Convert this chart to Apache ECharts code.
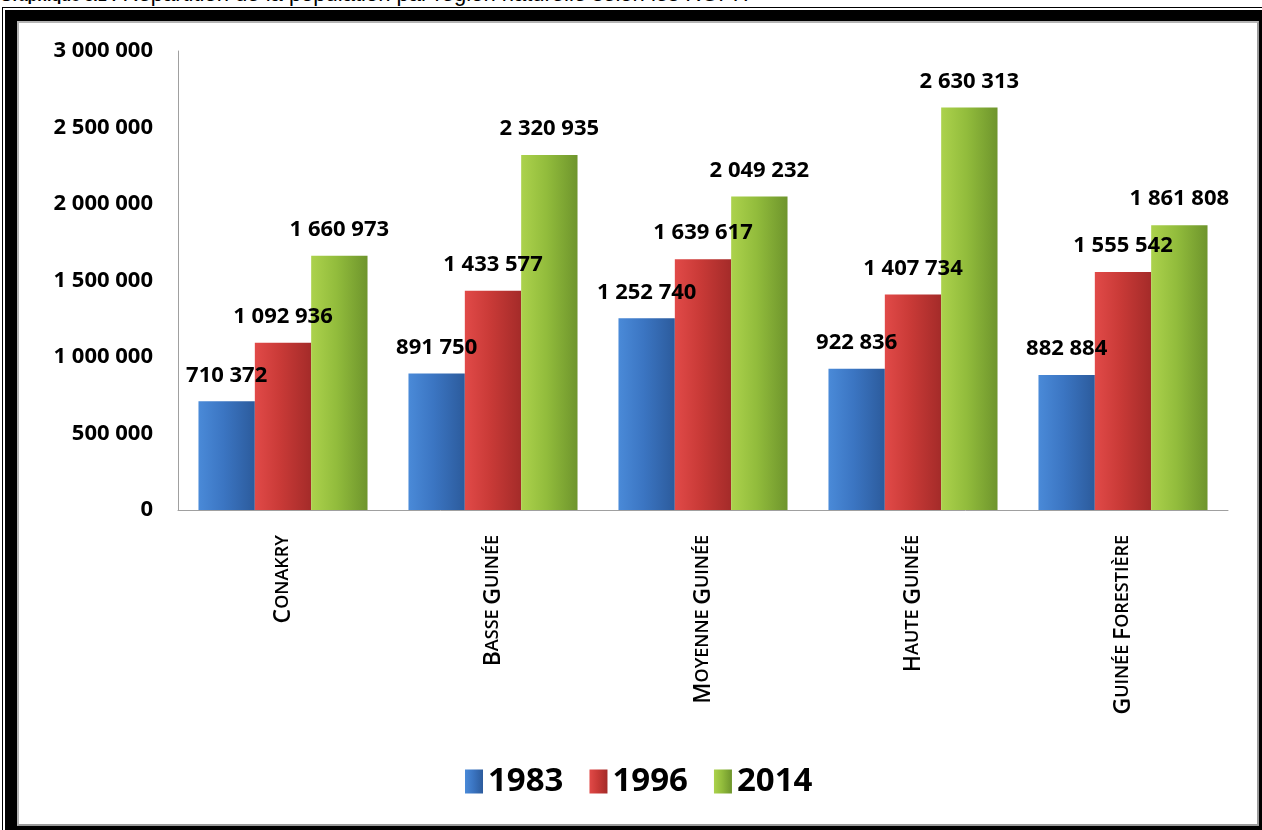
<!DOCTYPE html>
<html>
<head>
<meta charset="utf-8">
<script src="https://cdn.jsdelivr.net/npm/echarts@6/dist/echarts.min.js"></script>
<style>
html,body{margin:0;padding:0;width:1262px;height:830px;overflow:hidden;background:#fff;}
#title{position:absolute;left:0;top:-19px;white-space:nowrap;font-family:"Liberation Sans",Arial,sans-serif;font-size:22px;line-height:26px;color:#000;}
#title b{font-weight:bold;font-size:16px;}
#thin{position:absolute;left:2px;top:7px;width:1300px;height:900px;border:1px solid #000;box-sizing:border-box;}
#thick{position:absolute;left:5px;top:10px;width:1266px;height:828px;box-sizing:border-box;border-style:solid;border-color:#000;border-width:11px 12px 12px 12px;background:#fff;}
#gray{position:absolute;left:17px;top:21px;width:1242px;height:805px;box-sizing:border-box;border:2px solid #b4b4b4;border-right-color:#9a9a9a;border-bottom-color:#9a9a9a;}
#chart{position:absolute;left:0;top:0;width:1262px;height:830px;}
</style>
</head>
<body>
<div id="title"><b>Graphique 5.1 :</b> Répartition de la population par région naturelle selon les RGPH</div>
<div id="thin"></div>
<div id="thick"></div>
<div id="gray"></div>
<div id="chart"></div>
<script>
const categories = ["Conakry", "Basse Guinée", "Moyenne Guinée", "Haute Guinée", "Guinée Forestière"];
const years = ["1983", "1996", "2014"];
const values1983 = [710372, 891750, 1252740, 922836, 882884];
const values1996 = [1092936, 1433577, 1639617, 1407734, 1555542];
const values2014 = [1660973, 2320935, 2049232, 2630313, 1861808];
const yTicks = [0, 500000, 1000000, 1500000, 2000000, 2500000, 3000000];

function fmt(v){
  return String(v).replace(/\B(?=(\d{3})+(?!\d))/g, " ");
}
function smallCaps(s){
  return s.split(" ").map(w => "{a|" + w.charAt(0).toUpperCase() + "}{b|" + w.slice(1).toUpperCase() + "}").join("{b| }");
}
function grad(c1, c2, c3){
  return new echarts.graphic.LinearGradient(0, 0, 1, 0, [
    {offset: 0, color: c1}, {offset: 0.45, color: c2}, {offset: 1, color: c3}
  ]);
}
const colors = [
  grad("#4a8ad8", "#3b75c2", "#2c5b9c"),
  grad("#e14a48", "#c93a37", "#a42b29"),
  grad("#acd24c", "#92bc3c", "#6e952c")
];
const seriesData = [values1983, values1996, values2014];

const chart = echarts.init(document.getElementById("chart"), null, {renderer: "canvas"});
chart.setOption({
  backgroundColor: "transparent",
  animation: false,
  textStyle: {fontFamily: "Open Sans"},
  grid: {left: 178, right: 34, top: 51, bottom: 320, containLabel: false},
  legend: {
    left: 460, top: 760,
    itemWidth: 18, itemHeight: 24, itemGap: 26,
    icon: "rect",
    textStyle: {fontSize: 33, fontWeight: "bold", color: "#000", fontFamily: "Open Sans", padding: [0, 0, 0, 0]},
    data: years
  },
  xAxis: {
    type: "category",
    data: categories,
    axisLine: {lineStyle: {color: "#a0a0a0", width: 1}},
    axisTick: {show: false},
    axisLabel: {
      rotate: 90,
      margin: 25,
      interval: 0,
      formatter: v => smallCaps(v),
      rich: {
        a: {fontSize: 23, fontWeight: 600, fontFamily: "Open Sans", color: "#000"},
        b: {fontSize: 18, fontWeight: 600, fontFamily: "Open Sans", color: "#000"}
      }
    }
  },
  yAxis: {
    type: "value",
    min: yTicks[0],
    max: yTicks[yTicks.length - 1],
    interval: yTicks[1] - yTicks[0],
    axisLine: {show: true, lineStyle: {color: "#a0a0a0", width: 1}},
    axisTick: {show: false},
    splitLine: {show: false},
    axisLabel: {
      margin: 25,
      fontSize: 22,
      fontWeight: "bold",
      fontFamily: "Open Sans",
      color: "#000",
      formatter: v => fmt(v)
    }
  },
  series: years.map((y, i) => ({
    name: y,
    type: "bar",
    data: seriesData[i],
    barGap: "0%",
    barCategoryGap: "19.5%",
    itemStyle: {color: colors[i]},
    label: {
      show: true,
      position: "top",
      distance: 15,
      fontSize: 22,
      fontWeight: "bold",
      fontFamily: "Open Sans",
      color: "#000",
      formatter: p => fmt(p.value)
    }
  }))
});
</script>
</body>
</html>
